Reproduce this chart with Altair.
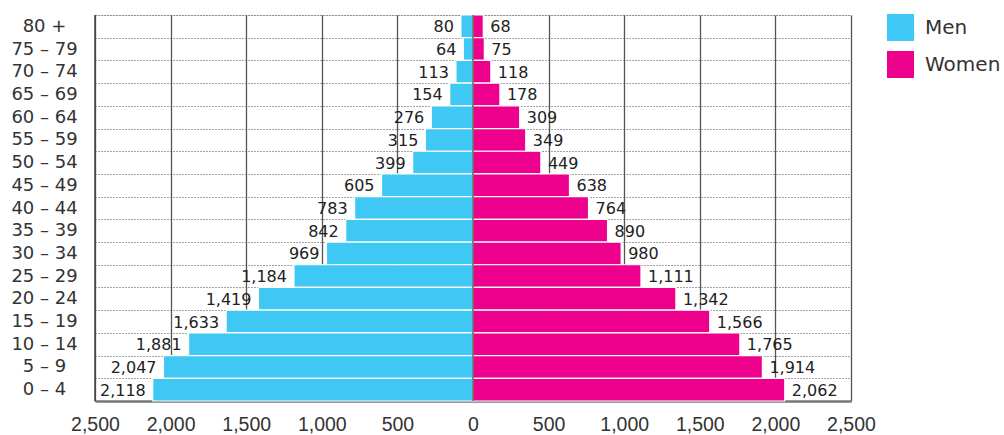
import altair as alt
import pandas as pd

# Age bands, top to bottom
ages = ["80 +", "75 – 79", "70 – 74", "65 – 69", "60 – 64", "55 – 59", "50 – 54",
        "45 – 49", "40 – 44", "35 – 39", "30 – 34", "25 – 29", "20 – 24",
        "15 – 19", "10 – 14", "5 – 9", "0 – 4"]
men = [80, 64, 113, 154, 276, 315, 399, 605, 783, 842, 969, 1184, 1419, 1633, 1881, 2047, 2118]
women = [68, 75, 118, 178, 309, 349, 449, 638, 764, 890, 980, 1111, 1342, 1566, 1765, 1914, 2062]
x_ticks = [-2500, -2000, -1500, -1000, -500, 0, 500, 1000, 1500, 2000, 2500]

MEN_COLOR = "#40C8F4"
WOMEN_COLOR = "#EC008C"
FONT = "DejaVu Sans"
AXIS_FONT = "Liberation Sans"

rows = []
for a, m, w in zip(ages, men, women):
    rows.append({"age": a, "sex": "Men", "value": -m, "count": m})
    rows.append({"age": a, "sex": "Women", "value": w, "count": w})
df = pd.DataFrame(rows)

x_scale = alt.Scale(domain=[-2500, 2500], nice=False, zero=False)
y_scale = alt.Scale(domain=ages, paddingInner=0, paddingOuter=0)

base = alt.Chart(df)

bars = base.mark_bar(stroke="white", strokeWidth=1.2).encode(
    x=alt.X("value:Q", scale=x_scale, title=None,
            axis=alt.Axis(values=x_ticks, labelExpr="format(abs(datum.value), ',')",
                          labelFlush=False, labelOverlap=False,
                          grid=True, gridColor="#555", gridWidth=1.3,
                          domainColor="#777", domainWidth=2.5, ticks=False,
                          labelFontSize=19.5, labelColor="#333", labelFont=AXIS_FONT,
                          labelPadding=14)),
    y=alt.Y("age:N", scale=y_scale, sort=ages, title=None,
            axis=alt.Axis(grid=True, tickBand="extent", gridDash=[1, 2],
                          gridColor="#444", gridWidth=1, domain=False, ticks=False,
                          labelAlign="center", labelPadding=51, labelFontSize=18,
                          labelColor="#333", labelFont=FONT)),
    color=alt.Color("sex:N",
                    scale=alt.Scale(domain=["Men", "Women"], range=[MEN_COLOR, WOMEN_COLOR]),
                    legend=alt.Legend(title=None, orient="none", legendX=792, legendY=-1,
                                      symbolType="square", symbolSize=729,
                                      symbolStrokeWidth=0, symbolOpacity=1,
                                      labelFontSize=20, labelColor="#333", labelFont=FONT,
                                      labelOffset=11, rowPadding=10)),
)

men_labels = base.transform_filter(alt.datum.sex == "Men").mark_text(
    align="right", baseline="middle", dx=-7, dy=1, fontSize=16, font=FONT, color="#222"
).encode(
    x=alt.X("value:Q", scale=x_scale),
    y=alt.Y("age:N", scale=y_scale, sort=ages),
    text=alt.Text("count:Q", format=","),
)

women_labels = base.transform_filter(alt.datum.sex == "Women").mark_text(
    align="left", baseline="middle", dx=7, dy=1, fontSize=16, font=FONT, color="#222"
).encode(
    x=alt.X("value:Q", scale=x_scale),
    y=alt.Y("age:N", scale=y_scale, sort=ages),
    text=alt.Text("count:Q", format=","),
)

zero_line = alt.Chart(pd.DataFrame({"x": [0]})).mark_rule(color="#444", strokeWidth=1.3).encode(
    x=alt.X("x:Q", scale=x_scale)
)

left_edge = alt.Chart(pd.DataFrame({"x": [-2500]})).mark_rule(color="#444", strokeWidth=1.5).encode(
    x=alt.X("x:Q", scale=x_scale)
)

chart = alt.layer(bars, zero_line, left_edge, men_labels, women_labels).properties(
    width=756, height=386,
    padding={"left": 95, "top": 15, "right": 153, "bottom": 34},
    autosize=alt.AutoSizeParams(type="none"),
).configure_view(stroke=None).configure(background="white")

chart.save("out.html", embed_options={"renderer": "svg", "actions": False})
